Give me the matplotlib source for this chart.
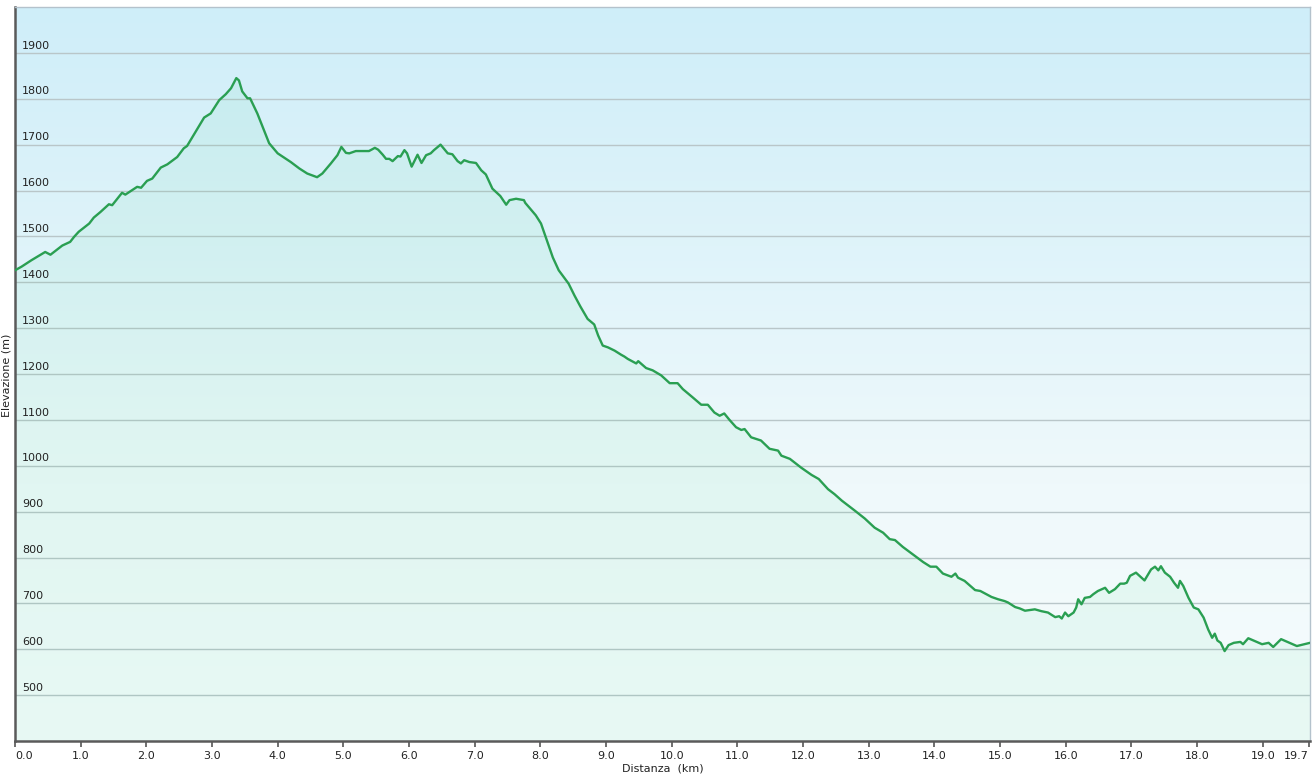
import numpy as np
import matplotlib
matplotlib.use("Agg")
import matplotlib.pyplot as plt
from matplotlib.colors import LinearSegmentedColormap

# ---- data (distance km, elevation m) ----
distance_km = [
    0.00, 0.10, 0.25, 0.46, 0.54, 0.72, 0.84, 0.90, 0.97, 1.13, 1.20, 1.30, 1.43, 1.48,
    1.63, 1.68, 1.86, 1.92, 2.01, 2.09, 2.22, 2.32, 2.47, 2.57, 2.62, 2.75, 2.88, 2.98,
    3.11, 3.21, 3.29, 3.33, 3.37, 3.41, 3.46, 3.54, 3.58, 3.69, 3.87, 4.00, 4.20, 4.33,
    4.45, 4.60, 4.68, 4.81, 4.91, 4.97, 5.04, 5.09, 5.19, 5.39, 5.48, 5.53, 5.60, 5.65,
    5.70, 5.75, 5.83, 5.87, 5.93, 5.97, 6.04, 6.13, 6.19, 6.26, 6.33, 6.38, 6.48, 6.56,
    6.59, 6.66, 6.74, 6.79, 6.84, 6.92, 7.02, 7.10, 7.17, 7.27, 7.39, 7.48, 7.53, 7.63,
    7.75, 7.77, 7.83, 7.93, 8.01, 8.09, 8.19, 8.28, 8.43, 8.52, 8.61, 8.72, 8.82, 8.88,
    8.95, 9.03, 9.13, 9.23, 9.28, 9.33, 9.46, 9.49, 9.61, 9.71, 9.84, 9.97, 10.09, 10.17,
    10.32, 10.45, 10.55, 10.65, 10.73, 10.80, 10.88, 10.98, 11.06, 11.11, 11.21, 11.36,
    11.49, 11.62, 11.67, 11.80, 11.97, 12.13, 12.24, 12.38, 12.48, 12.59, 12.79, 12.94,
    13.09, 13.22, 13.32, 13.40, 13.52, 13.70, 13.83, 13.94, 14.03, 14.13, 14.26, 14.32,
    14.36, 14.46, 14.62, 14.70, 14.87, 14.97, 15.07, 15.12, 15.23, 15.30, 15.38, 15.53,
    15.63, 15.73, 15.84, 15.90, 15.94, 15.99, 16.04, 16.12, 16.16, 16.19, 16.24, 16.29,
    16.37, 16.42, 16.49, 16.60, 16.66, 16.75, 16.83, 16.89, 16.93, 16.98, 17.07, 17.20,
    17.30, 17.36, 17.41, 17.45, 17.51, 17.59, 17.65, 17.71, 17.74, 17.79, 17.87, 17.95,
    18.02, 18.10, 18.17, 18.23, 18.27, 18.31, 18.36, 18.42, 18.48, 18.56, 18.66, 18.70,
    18.78, 18.99, 19.09, 19.16, 19.28, 19.52, 19.72,
]
elevation_m = [
    1426, 1434, 1448, 1466, 1460, 1480, 1488, 1499, 1510, 1528, 1541, 1553, 1570, 1568,
    1595, 1591, 1608, 1606, 1621, 1626, 1650, 1657, 1673, 1692, 1697, 1728, 1759, 1768,
    1797, 1810, 1823, 1834, 1845, 1840, 1816, 1801, 1801, 1768, 1703, 1681, 1662, 1648,
    1637, 1629, 1637, 1659, 1677, 1695, 1682, 1681, 1686, 1686, 1693, 1689, 1678, 1669,
    1669, 1664, 1675, 1674, 1688, 1681, 1652, 1678, 1660, 1677, 1681, 1688, 1700, 1686,
    1681, 1679, 1664, 1659, 1666, 1662, 1660, 1644, 1635, 1604, 1588, 1569, 1579, 1582,
    1579, 1573, 1563, 1546, 1528, 1495, 1454, 1426, 1397, 1371, 1347, 1320, 1308, 1284,
    1262, 1258, 1251, 1242, 1238, 1233, 1223, 1228, 1213, 1208, 1197, 1180, 1180, 1167,
    1149, 1133, 1133, 1116, 1109, 1114, 1100, 1084, 1078, 1080, 1062, 1055,
    1037, 1033, 1022, 1015, 996, 980, 971, 949, 938, 924, 902, 885,
    865, 854, 840, 838, 823, 804, 790, 780, 780, 765, 758, 765,
    756, 749, 729, 727, 714, 709, 705, 702, 692, 689, 684, 687,
    683, 680, 670, 672, 667, 680, 672, 680, 691, 709, 698, 712,
    714, 720, 727, 734, 723, 731, 743, 743, 745, 760, 767, 750,
    774, 780, 772, 781, 767, 758, 745, 734, 749, 738, 712, 691,
    687, 669, 643, 625, 634, 619, 614, 596, 609, 614, 616, 611,
    624, 611, 614, 605, 622, 607, 614,
]
x_ticks = [0, 1, 2, 3, 4, 5, 6, 7, 8, 9, 10, 11, 12, 13, 14, 15, 16, 17, 18, 19, 19.7]
x_tick_labels = ["0.0", "1.0", "2.0", "3.0", "4.0", "5.0", "6.0", "7.0", "8.0", "9.0",
                 "10.0", "11.0", "12.0", "13.0", "14.0", "15.0", "16.0", "17.0", "18.0",
                 "19.0", "19.7"]
y_ticks = [500, 600, 700, 800, 900, 1000, 1100, 1200, 1300, 1400, 1500, 1600, 1700, 1800, 1900]

plt.rcParams['font.family'] = ['DejaVu Sans']

W, H = 1315, 784
fig = plt.figure(figsize=(W / 100, H / 100), dpi=100)
fig.patch.set_facecolor('white')
ax = fig.add_axes([15 / W, 1 - 741 / H, (1310 - 15) / W, (741 - 7) / H])

xmin, xmax = 0, 19.72
ymin, ymax = 400, 2000
ax.set_xlim(xmin, xmax)
ax.set_ylim(ymin, ymax)

# background gradient (top light blue -> bottom very light)
bg = LinearSegmentedColormap.from_list(
    "bg", [(0.0, "#f6fcfd"), (0.35, "#eff9fb"), (1.0, "#cfeef9")])
grad = np.linspace(0, 1, 256).reshape(-1, 1)
ax.imshow(grad, cmap=bg, aspect='auto', extent=[xmin, xmax, ymin, ymax],
          origin='lower', zorder=0, interpolation='bicubic')

# grid
for yv in y_ticks:
    ax.axhline(yv, color="#b9c6c9", lw=1.0, zorder=1)

# fill under profile
ax.fill_between(distance_km, elevation_m, ymin, color="#33d27e", alpha=0.07, zorder=2, lw=0)
ax.plot(distance_km, elevation_m, color="#2a9f52", lw=1.7, zorder=3,
        solid_joinstyle='round')

# y labels inside the plot
ax.set_yticks(y_ticks)
ax.tick_params(axis='y', length=0, labelleft=False)
for yv in y_ticks:
    ax.text(0.0055, yv + 5, str(yv), transform=ax.get_yaxis_transform(),
            ha='left', va='bottom', fontsize=8, color="#222222", zorder=4)

ax.set_xticks(x_ticks)
ax.set_xticklabels(x_tick_labels, fontsize=8, color="#222222")
ax.tick_params(axis='x', direction='out', length=4, width=1.2, color="#555555", pad=3)
xlabels = ax.get_xticklabels()
xlabels[0].set_horizontalalignment('left')
xlabels[-1].set_horizontalalignment('right')

for side in ['top', 'right']:
    ax.spines[side].set_color("#b4c2cc")
    ax.spines[side].set_linewidth(1.0)
for side in ['left', 'bottom']:
    ax.spines[side].set_color("#5a5a5a")
    ax.spines[side].set_linewidth(1.8)

ax.set_xlabel("Distanza  (km)", fontsize=8, color="#222222", labelpad=2)
fig.text(6.5 / W, 1 - 375 / H, "Elevazione (m)", rotation=90, fontsize=8,
         color="#222222", ha='center', va='center')

fig.savefig("out.png", dpi=100)
